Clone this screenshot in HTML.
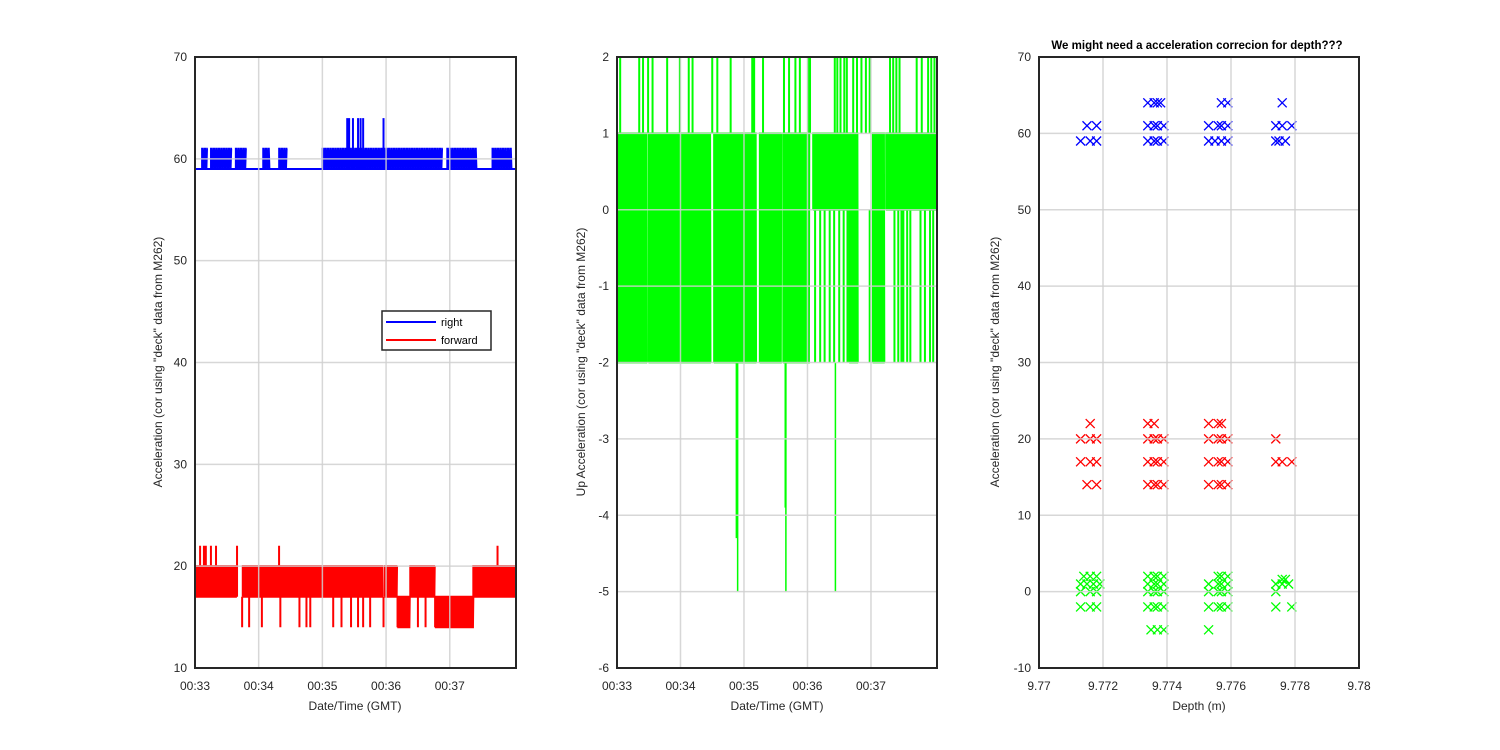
<!DOCTYPE html>
<html><head><meta charset="utf-8"><style>
body{margin:0;background:#fff;}
svg{display:block;font-family:"Liberation Sans",sans-serif;}
</style></head><body>
<svg id="fig" width="1500" height="750" viewBox="0 0 1500 750" xmlns="http://www.w3.org/2000/svg">
<rect width="1500" height="750" fill="#fff"/>
</svg>
<script>
// ---- data (time in minutes after 00:33) ----
const timeTickLabels = ["00:33","00:34","00:35","00:36","00:37"];
const timeTicks = [0,1,2,3,4];
const ax1YTicks = [10,20,30,40,50,60,70];
const ax2YTicks = [-6,-5,-4,-3,-2,-1,0,1,2];
const ax3YTicks = [-10,0,10,20,30,40,50,60,70];
const depthTicks = [9.77,9.772,9.774,9.776,9.778,9.78];
const depthTickLabels = ["9.77","9.772","9.774","9.776","9.778","9.78"];
// right: baseline and bursts [t0,t1,lo,hi]
const rightBase = 59;
const rightBursts = [[0.11,0.19,59,61],[0.25,0.58,59,61],[0.64,0.82,59,61],[1.07,1.18,59,61],[1.32,1.45,59,61],[2.0,3.9,59,61],[3.96,4.43,59,61],[4.67,4.98,59,61]];
const rightSpikes = [[2.39,64],[2.42,64],[2.48,64],[2.56,64],[2.6,64],[2.64,64],[2.96,64]];
// forward
const fwdSegs = [[0,0.66,17,20],[0.75,2.95,17,20],[2.98,3.18,17,20],[3.18,3.38,14,17],[3.38,3.77,17,20],[3.77,4.37,14,17],[4.37,5.04,17,20]];
const fwdSpikes = [[0.08,22],[0.14,22],[0.17,22],[0.25,22],[0.33,22],[0.66,22],[1.32,22],[4.75,22],
 [0.74,14],[0.85,14],[1.05,14],[1.34,14],[1.64,14],[1.75,14],[1.81,14],[2.17,14],[2.3,14],[2.45,14],[2.56,14],[2.64,14],[2.75,14],[2.96,14],[3.5,14],[3.62,14]];
const fwdSpikeBase = 17;
// up (green)
const upSegs = [[0,0.47,-2,1],[0.5,1.48,-2,1],[1.53,2.2,-2,1],[2.25,2.59,-2,1],[2.62,3.03,-2,1],[3.09,3.66,0,1],[3.66,3.8,-2,1],[4.03,4.22,-2,1],[4.24,5.04,0,1]];
const upTopSpikes = [0.05,0.35,0.41,0.49,0.56,0.79,0.99,1.13,1.19,1.5,1.58,1.79,2.13,2.16,2.3,2.63,2.71,2.81,2.88,3.01,3.04,3.43,3.47,3.52,3.58,3.62,3.72,3.78,3.85,3.92,3.98,4.3,4.35,4.4,4.45,4.72,4.8,4.9,4.95,5.0];
const upTopSpikeTop = 2;
const upLowSpikes = [3.12,3.2,3.27,3.35,3.42,3.5,3.57,3.63,3.98,4.37,4.43,4.48,4.51,4.57,4.62,4.78,4.85,4.93,4.98];
const upLowSpikeBottom = -2;
const upDeepSpikes = [[1.9,-5],[1.88,-4.3],[2.66,-5],[2.65,-3.9],[3.44,-5]];
// scatter
const blueDepths = [9.7734,9.7736,9.7737,9.7738,9.7757,9.7759,9.7776,
 9.7715,9.7718,9.7734,9.7736,9.7737,9.7739,9.7753,9.7756,9.7757,9.7759,9.7774,9.7776,9.7779,
 9.7713,9.7716,9.7718,9.7734,9.7736,9.7737,9.7739,9.7753,9.7755,9.7757,9.7759,9.7774,9.7775,9.7777];
const blueValues = [64,64,64,64,64,64,64, 61,61,61,61,61,61,61,61,61,61,61,61,61, 59,59,59,59,59,59,59,59,59,59,59,59,59,59];
const redDepths = [9.7716,9.7734,9.7736,9.7753,9.7756,9.7757,
 9.7713,9.7716,9.7718,9.7734,9.7736,9.7737,9.7739,9.7753,9.7756,9.7757,9.7759,9.7774,
 9.7713,9.7716,9.7718,9.7734,9.7736,9.7737,9.7739,9.7753,9.7756,9.7757,9.7759,9.7774,9.7776,9.7779,
 9.7715,9.7718,9.7734,9.7736,9.7737,9.7739,9.7753,9.7756,9.7757,9.7759];
const redValues = [22,22,22,22,22,22, 20,20,20,20,20,20,20,20,20,20,20,20, 17,17,17,17,17,17,17,17,17,17,17,17,17,17, 14,14,14,14,14,14,14,14,14,14];
const greenDepths = [9.7714,9.7716,9.7718,9.7734,9.7736,9.7737,9.7739,9.7756,9.7757,9.7759,9.7776,9.7777,
 9.7713,9.7715,9.7717,9.7719,9.7734,9.7736,9.7737,9.7739,9.7753,9.7756,9.7757,9.7759,9.7774,9.7776,9.7778,
 9.7713,9.7716,9.7718,9.7734,9.7736,9.7737,9.7739,9.7753,9.7756,9.7757,9.7759,9.7774,
 9.7713,9.7716,9.7718,9.7734,9.7736,9.7737,9.7739,9.7753,9.7756,9.7757,9.7759,9.7774,9.7779,
 9.7735,9.7737,9.7739,9.7753];
const greenValues = [2,2,2,2,2,2,2,2,2,2,1.6,1.6, 1,1,1,1,1,1,1,1,1,1,1,1,1,1,1, 0,0,0,0,0,0,0,0,0,0,0,0, -2,-2,-2,-2,-2,-2,-2,-2,-2,-2,-2,-2,-2, -5,-5,-5,-5];

const NS="http://www.w3.org/2000/svg";
const svg=document.getElementById('fig');
function el(tag,attrs,parent){const e=document.createElementNS(NS,tag);for(const k in attrs)e.setAttribute(k,attrs[k]);(parent||svg).appendChild(e);return e;}
function lin(d0,d1,r0,r1){return v=>r0+(v-d0)/(d1-d0)*(r1-r0);}

const T=57,B=668;
const axes=[
 {x0:195,x1:516,xs:lin(0,5.04,195,516),ys:lin(10,70,B,T),yt:ax1YTicks,xt:timeTicks,xl:timeTickLabels,name:'left-axes'},
 {x0:617,x1:937,xs:lin(0,5.04,617,937),ys:lin(-6,2,B,T),yt:ax2YTicks,xt:timeTicks,xl:timeTickLabels,name:'middle-axes'},
 {x0:1039,x1:1359,xs:lin(9.77,9.78,1039,1359),ys:lin(-10,70,B,T),yt:ax3YTicks,xt:depthTicks,xl:depthTickLabels,name:'right-axes'}
];
axes.forEach(a=>{
 const g=el('g',{});
 
 
 a.g=g;
 a.grid=[];
 a.yt.forEach(v=>{const y=a.ys(v);
  const l=el('line',{x1:a.x0,x2:a.x1,y1:y,y2:y,stroke:'#d0d0d0','stroke-opacity':0.85,'stroke-width':1.5},g);
  
  a.grid.push(l);
  const t=el('text',{x:a.x0-8,y:y+4,'text-anchor':'end','font-size':12,fill:'#262626'},g);
  t.textContent=String(v);
 });
 a.xt.forEach((v,i)=>{const x=a.xs(v);
  const l=el('line',{x1:x,x2:x,y1:T,y2:B,stroke:'#d0d0d0','stroke-opacity':0.85,'stroke-width':1.5},g);
  
  a.grid.push(l);
  const t=el('text',{x:x,y:B+22,'text-anchor':'middle','font-size':12,fill:'#262626'},g);
  t.textContent=a.xl[i];
 });
});
function zig(a,segs,step,color,sw,name){
 let d='';
 segs.forEach(s=>{let up=true;d+='M'+a.xs(s[0])+','+a.ys(s[2]);
  for(let t=s[0];t<=s[1];t+=step){d+='L'+a.xs(t)+','+a.ys(up?s[3]:s[2])+'L'+a.xs(t+step/2)+','+a.ys(up?s[3]:s[2]);up=!up;}
 });
 const p=el('path',{d:d,fill:'none',stroke:color,'stroke-width':sw},a.g);
 
}
function vlines(a,pairs,color,sw,name){
 let d='';pairs.forEach(p=>{d+='M'+a.xs(p[0])+','+a.ys(p[1])+'L'+a.xs(p[0])+','+a.ys(p[2]);});
 const p=el('path',{d:d,fill:'none',stroke:color,'stroke-width':sw},a.g);
 
}
const A=axes[0],M=axes[1],S=axes[2];
// left: right series
(function(){const p=el('line',{x1:A.xs(0),x2:A.xs(5.04),y1:A.ys(rightBase),y2:A.ys(rightBase),stroke:'#00f','stroke-width':2},A.g);})();
zig(A,rightBursts,0.02,'#00f',1.8,'right-series');
vlines(A,rightSpikes.map(s=>[s[0],rightBase,s[1]]),'#00f',2,'right-series-spikes');
// forward
zig(A,fwdSegs,0.012,'#f00',2,'forward-series');
vlines(A,fwdSpikes.map(s=>[s[0],fwdSpikeBase,s[1]]),'#f00',2,'forward-series-spikes');
// middle: up
zig(M,upSegs,0.012,'#0f0',2,'up-series');
vlines(M,upTopSpikes.map(t=>[t,1,upTopSpikeTop]),'#0f0',2,'up-series-top-spikes');
vlines(M,upLowSpikes.map(t=>[t,0,upLowSpikeBottom]),'#0f0',2,'up-series-low-spikes');
vlines(M,upDeepSpikes.map(s=>[s[0],-2,s[1]]),'#0f0',1.5,'up-series-deep-spikes');
// scatter
function xs(a,ds,vs,color,name){
 ds.forEach((dv,i)=>{const x=a.xs(dv),y=a.ys(vs[i]),r=4.5;
  const p=el('path',{d:`M${x-r},${y-r}L${x+r},${y+r}M${x-r},${y+r}L${x+r},${y-r}`,stroke:color,'stroke-width':1.3,fill:'none'},a.g);
  
 });
}
xs(S,blueDepths,blueValues,'#00f','right-marker');
xs(S,redDepths,redValues,'#f00','forward-marker');
xs(S,greenDepths,greenValues,'#0f0','up-marker');
// grid on top of data (MATLAB layer top), then frames
axes.forEach(a=>{
 a.grid.forEach(l=>a.g.appendChild(l));
 const r=el('rect',{x:a.x0,y:T,width:a.x1-a.x0,height:B-T,fill:'none',stroke:'#262626','stroke-width':2},a.g);
 
});
function txt(x,y,s,attrs,name){const t=el('text',Object.assign({x:x,y:y,'font-size':12,fill:'#262626','text-anchor':'middle'},attrs||{}));t.textContent=s;return t;}
txt(355,710,'Date/Time (GMT)',{},'left-x-axis-title');
txt(777,710,'Date/Time (GMT)',{},'middle-x-axis-title');
txt(1199,710,'Depth (m)',{},'right-x-axis-title');
txt(162,362,'Acceleration (cor using "deck" data from M262)',{transform:'rotate(-90 162 362)'},'left-y-axis-title');
txt(585,362,'Up Acceleration (cor using "deck" data from M262)',{transform:'rotate(-90 585 362)'},'middle-y-axis-title');
txt(999,362,'Acceleration (cor using "deck" data from M262)',{transform:'rotate(-90 999 362)'},'right-y-axis-title');
txt(1197,49,'We might need a acceleration correcion for depth???',{'font-weight':'bold','font-size':11.5,fill:'#000'},'right-axes-title');
// legend
const lg=el('g',{});


el('rect',{x:382,y:311,width:109,height:39,fill:'#fff',stroke:'#262626','stroke-width':1.5},lg);
el('line',{x1:386,x2:436,y1:322,y2:322,stroke:'#00f','stroke-width':2},lg);
el('line',{x1:386,x2:436,y1:340,y2:340,stroke:'#f00','stroke-width':2},lg);
const l1=el('text',{x:441,y:326,'font-size':11,fill:'#000'},lg);l1.textContent='right';


const l2=el('text',{x:441,y:344,'font-size':11,fill:'#000'},lg);l2.textContent='forward';


</script>
</body></html>
